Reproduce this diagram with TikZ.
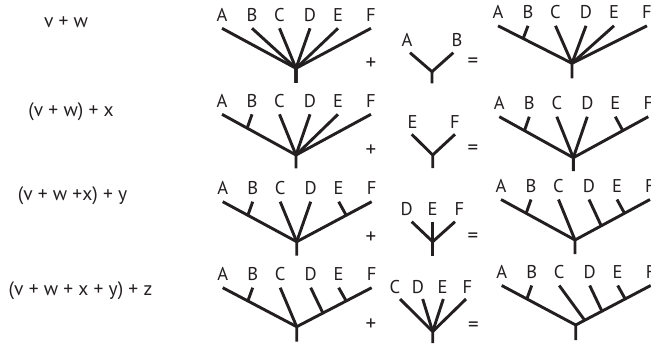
\documentclass[tikz,border=0pt]{standalone}
\usepackage{fontspec}
\setmainfont{PT Sans}
\usetikzlibrary{calc}
\definecolor{ink}{HTML}{231F20}
\newcommand\sixtree[4]{% #1 prefix, #2 root, #3 tip dy, #4 stem length
  \coordinate (#1r) at #2;
  \begin{scope}[shift={#2}]
    \coordinate (#1s) at (0,#4);
    \foreach \n/\x in {A/-74,B/-44,C/-16.5,D/14,E/42,F/75}{
      \coordinate (#1\n) at (\x,#3);
      \node[lab] (#1l\n) at (\x,#3-7) {\n};
    }
  \end{scope}
}
\begin{document}
\begin{tikzpicture}[x=1pt,y=-1pt,
  br/.style={line width=2.9pt,draw=ink,line join=round},
  lab/.style={anchor=base,inner sep=0pt,font=\fontsize{18.5}{20}\selectfont,text=ink},
  op/.style={inner sep=0pt,font=\fontsize{21}{24}\selectfont,text=ink},
  expr/.style={anchor=base,inner sep=0pt,font=\fontsize{19.5}{22}\selectfont,text=ink}]
\useasboundingbox (0,0) rectangle (651,345);

% ---------- left expressions
\node[expr] (e1) at (66,27.5) {v + w};
\node[expr] (e2) at (71,116.7) {(v + w) + x};
\node[expr] (e3) at (72.5,200.5) {(v + w +x) + y};
\node[expr] (e4) at (80.5,295) {(v + w + x + y) + z};

% ---------- operators
\node[op] (p1) at (371,64) {+};
\node[op] (p2) at (371,150.7) {+};
\node[op] (p3) at (371,238) {+};
\node[op] (p4) at (371,325) {+};
\node[op] (q1) at (473,63) {=};
\node[op] (q2) at (473,150) {=};
\node[op] (q3) at (473,238) {=};
\node[op] (q4) at (473.3,326.7) {=};

% ---------- row 1
\sixtree{La}{(296,68.3)}{-40}{14.5}
\foreach \n in {A,B,C,D,E,F} \draw[br] (La\n) -- (Lar) -- (Las);

\coordinate (Sar) at (432,71.7);
\coordinate (Sas) at (432,83.3);
\coordinate (SaA) at (410,52.7);
\coordinate (SaB) at (453.3,52.7);
\node[lab] (SalA) at (407,46.7) {A};
\node[lab] (SalB) at (457,46.7) {B};
\draw[br] (SaA) -- (Sar) -- (Sas);
\draw[br] (SaB) -- (Sar);

\sixtree{Ra}{(572,63.3)}{-37.5}{15}
\coordinate (Raab) at ($(Rar)!0.66!(RaA)$);
\draw[br] (RaA) -- (Rar) -- (Ras);
\draw[br] (RaB) -- (Raab);
\foreach \n in {C,D,E,F} \draw[br] (Ra\n) -- (Rar);

% ---------- row 2
\sixtree{Lb}{(296,155)}{-40.7}{13.3}
\coordinate (Lbab) at ($(Lbr)!0.66!(LbA)$);
\draw[br] (LbA) -- (Lbr) -- (Lbs);
\draw[br] (LbB) -- (Lbab);
\foreach \n in {C,D,E,F} \draw[br] (Lb\n) -- (Lbr);

\coordinate (Sbr) at (432.7,155);
\coordinate (Sbs) at (432.7,168);
\coordinate (SbE) at (411.7,134.3);
\coordinate (SbF) at (455,134.3);
\node[lab] (SblE) at (412.7,128.3) {E};
\node[lab] (SblF) at (455,128.3) {F};
\draw[br] (SbE) -- (Sbr) -- (Sbs);
\draw[br] (SbF) -- (Sbr);

\sixtree{Rb}{(573.3,157.7)}{-41}{13.3}
\coordinate (Rbab) at ($(Rbr)!0.66!(RbA)$);
\coordinate (Rbef) at ($(Rbr)!0.66!(RbF)$);
\draw[br] (RbA) -- (Rbr) -- (Rbs);
\draw[br] (RbF) -- (Rbr);
\draw[br] (RbB) -- (Rbab);
\draw[br] (RbE) -- (Rbef);
\foreach \n in {C,D} \draw[br] (Rb\n) -- (Rbr);

% ---------- row 3
\sixtree{Lc}{(296.7,241.7)}{-40}{14}
\coordinate (Lcab) at ($(Lcr)!0.66!(LcA)$);
\coordinate (Lcef) at ($(Lcr)!0.66!(LcF)$);
\draw[br] (LcA) -- (Lcr) -- (Lcs);
\draw[br] (LcF) -- (Lcr);
\draw[br] (LcB) -- (Lcab);
\draw[br] (LcE) -- (Lcef);
\foreach \n in {C,D} \draw[br] (Lc\n) -- (Lcr);

\coordinate (Scr) at (432.7,241.7);
\coordinate (Scs) at (432.7,256);
\coordinate (ScD) at (411.7,221.7);
\coordinate (ScE) at (432.7,221.7);
\coordinate (ScF) at (455,221.7);
\node[lab] (SclD) at (406.7,215) {D};
\node[lab] (SclE) at (432.7,215) {E};
\node[lab] (SclF) at (459.3,215) {F};
\draw[br] (ScE) -- (Scs);
\draw[br] (ScD) -- (Scr);
\draw[br] (ScF) -- (Scr);

\sixtree{Rc}{(575,240)}{-40.5}{14}
\coordinate (Rcab) at ($(Rcr)!0.66!(RcA)$);
\coordinate (Rcef) at ($(Rcr)!0.66!(RcF)$);
\coordinate (Rcd) at ($(Rcr)!0.35!(RcF)$);
\draw[br] (RcA) -- (Rcr) -- (Rcs);
\draw[br] (RcF) -- (Rcr);
\draw[br] (RcB) -- (Rcab);
\draw[br] (RcE) -- (Rcef);
\draw[br] (RcD) -- (Rcd);
\draw[br] (RcC) -- (Rcr);

% ---------- row 4
\sixtree{Ld}{(296.7,326.7)}{-39}{15}
\coordinate (Ldab) at ($(Ldr)!0.66!(LdA)$);
\coordinate (Ldef) at ($(Ldr)!0.66!(LdF)$);
\coordinate (Ldd) at ($(Ldr)!0.35!(LdF)$);
\draw[br] (LdA) -- (Ldr) -- (Lds);
\draw[br] (LdF) -- (Ldr);
\draw[br] (LdB) -- (Ldab);
\draw[br] (LdE) -- (Ldef);
\draw[br] (LdD) -- (Ldd);
\draw[br] (LdC) -- (Ldr);

\coordinate (Sdr) at (432.7,331.5);
\coordinate (Sds) at (432.7,343);
\coordinate (SdC) at (400,299);
\coordinate (SdD) at (422.7,299);
\coordinate (SdE) at (443.3,299);
\coordinate (SdF) at (466,299);
\node[lab] (SdlC) at (395,293) {C};
\node[lab] (SdlD) at (418,293) {D};
\node[lab] (SdlE) at (442.7,293) {E};
\node[lab] (SdlF) at (467.5,293) {F};
\draw[br] (SdC) -- (Sdr) -- (Sds);
\foreach \n in {D,E,F} \draw[br] (Sd\n) -- (Sdr);

\sixtree{Rd}{(575.7,325)}{-39.5}{15}
\coordinate (Rdab) at ($(Rdr)!0.66!(RdA)$);
\coordinate (Rdef) at ($(Rdr)!0.66!(RdF)$);
\coordinate (Rdd) at ($(Rdr)!0.35!(RdF)$);
\coordinate (Rdc) at ($(Rdr)!0.12!(RdF)$);
\draw[br] (RdA) -- (Rdr) -- (Rds);
\draw[br] (RdF) -- (Rdr);
\draw[br] (RdB) -- (Rdab);
\draw[br] (RdE) -- (Rdef);
\draw[br] (RdD) -- (Rdd);
\draw[br] (RdC) -- (Rdc);
\end{tikzpicture}
\end{document}
